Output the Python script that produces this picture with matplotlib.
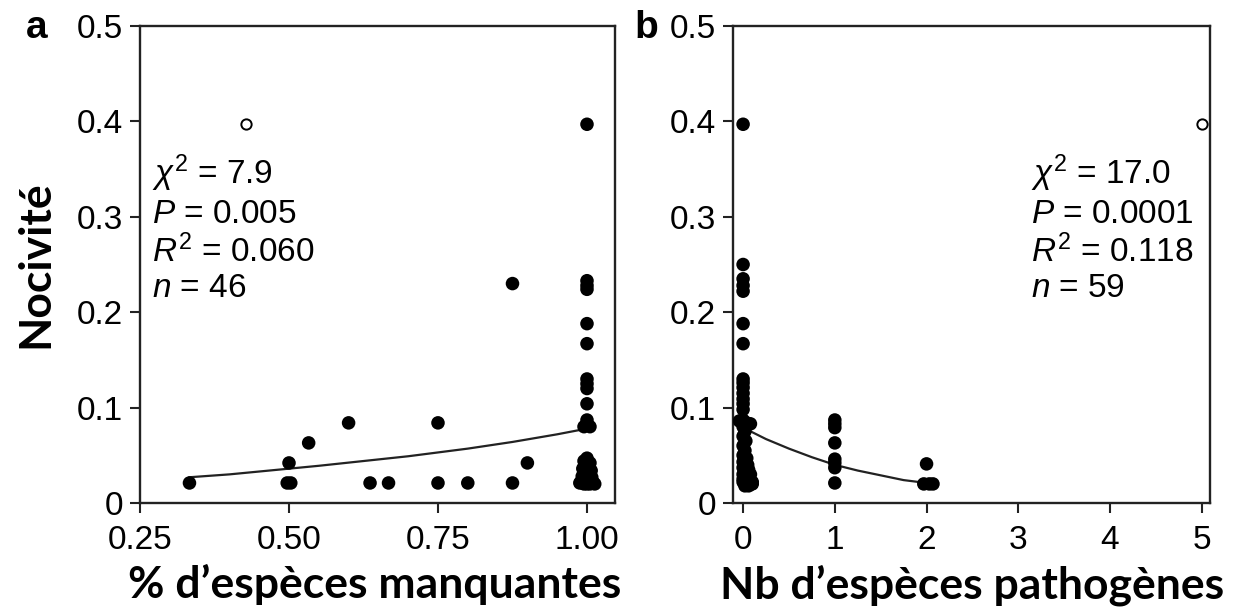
import numpy as np
import matplotlib
matplotlib.use('Agg')
import matplotlib.pyplot as plt

plt.rcParams['font.family'] = ['Liberation Sans', 'DejaVu Sans']
plt.rcParams['mathtext.fontset'] = 'custom'
plt.rcParams['mathtext.rm'] = 'Liberation Sans'
plt.rcParams['mathtext.it'] = 'Liberation Sans:italic'

# panneau a : % d'especes manquantes
a_x = [0.333, 0.497, 0.503, 0.5, 0.533, 0.6, 0.636, 0.667, 0.75, 0.75, 0.8, 0.875, 0.875, 0.9,
       1.0, 1.0, 1.0, 1.0, 1.0, 1.0, 1.0, 1.0, 1.0, 1.0, 1.0, 1.0, 0.995, 1.005,
       1.0, 0.995, 1.005, 1.0, 0.993, 1.007, 1.0, 0.992, 1.008, 1.0, 0.99, 1.01,
       0.995, 1.005, 1.0, 1.013, 0.988, 1.0]
a_y = [0.021, 0.021, 0.021, 0.042, 0.063, 0.084, 0.021, 0.021, 0.021, 0.084, 0.021, 0.021, 0.23, 0.042,
       0.397, 0.233, 0.228, 0.224, 0.188, 0.167, 0.13, 0.125, 0.12, 0.104, 0.087, 0.083, 0.08, 0.08,
       0.047, 0.044, 0.042, 0.039, 0.036, 0.034, 0.031, 0.028, 0.027, 0.025, 0.022, 0.022,
       0.02, 0.02, 0.02, 0.02, 0.021, 0.035]
a_open_x = [0.4286]
a_open_y = [0.397]
a_fit_x = [0.333, 0.4, 0.5, 0.55, 0.625, 0.7, 0.75, 0.8, 0.875, 0.95, 1.0]
a_fit_y = [0.027, 0.030, 0.036, 0.039, 0.044, 0.049, 0.053, 0.057, 0.064, 0.072, 0.078]
a_stats = [r'$\chi^2$ = 7.9', r'$P$ = 0.005', r'$R^2$ = 0.060', r'$n$ = 46']

# panneau b : nb d'especes pathogenes
b_x = [0.0, 0.0, 0.0, 0.0, 0.0, 0.0, 0.0, 0.0, 0.0, 0.0, 0.0, 0.0, 0.0, 0.0,
       -0.04, 0.0, 0.04, 0.08, 0.0, 0.02, 0.0, 0.03, 0.0, 0.02, 0.0, 0.04, 0.01,
       0.0, 0.05, 0.02, 0.0, 0.06, 0.03, 0.0, 0.08, 0.02, 0.06, 0.0, 0.1, 0.0,
       0.04, 0.08, 0.1, 0.02, 0.06, 0.09,
       1.0, 1.0, 1.0, 1.0, 1.0, 1.0, 1.0, 1.0,
       2.0, 1.97, 2.03, 2.07]
b_y = [0.397, 0.25, 0.235, 0.228, 0.222, 0.188, 0.167, 0.13, 0.126, 0.121, 0.115, 0.109, 0.104, 0.098,
       0.086, 0.087, 0.084, 0.083, 0.08, 0.075, 0.07, 0.065, 0.06, 0.055, 0.05, 0.047, 0.045,
       0.043, 0.04, 0.04, 0.037, 0.035, 0.033, 0.03, 0.03, 0.028, 0.025, 0.025, 0.022, 0.022,
       0.02, 0.02, 0.02, 0.018, 0.018, 0.02,
       0.087, 0.083, 0.079, 0.063, 0.046, 0.042, 0.037, 0.021,
       0.041, 0.02, 0.02, 0.02]
b_open_x = [5.0]
b_open_y = [0.397]
b_fit_x = [0.0, 0.25, 0.5, 0.75, 1.0, 1.25, 1.5, 1.75, 2.0]
b_fit_y = [0.079, 0.067, 0.057, 0.048, 0.040, 0.034, 0.029, 0.024, 0.021]
b_stats = [r'$\chi^2$ = 17.0', r'$P$ = 0.0001', r'$R^2$ = 0.118', r'$n$ = 59']

W, H = 1241, 616
fig = plt.figure(figsize=(W / 100, H / 100), dpi=100)
ax1 = fig.add_axes([140 / W, 113 / H, 475 / W, 477 / H])
ax2 = fig.add_axes([733 / W, 113 / H, 477 / W, 477 / H])

lab_font = dict(family=['Lato', 'DejaVu Sans'], fontweight='bold', fontsize=32)


def draw_panel(ax, xs, ys, ox, oy, fx, fy, stats, tx):
    ax.plot(fx, fy, color='#222222', lw=1.6, zorder=2)
    ax.scatter(xs, ys, s=95, color='black', edgecolors='none', zorder=3)
    ax.scatter(ox, oy, s=55, facecolors='white', edgecolors='black', linewidths=1.4, zorder=3)
    ax.set_ylim(0, 0.5)
    ax.set_yticks([0, 0.1, 0.2, 0.3, 0.4, 0.5])
    ax.set_yticklabels(['0', '0.1', '0.2', '0.3', '0.4', '0.5'])
    for sp in ax.spines.values():
        sp.set_linewidth(1.7)
        sp.set_color('#222222')
    ax.tick_params(direction='out', length=7, width=1.5, labelsize=24, pad=5,
                   color='#222222', top=False, right=False)
    ax.tick_params(axis='x', pad=9)
    base = [0.669, 0.587, 0.505, 0.432]
    for s, b in zip(stats, base):
        ax.text(tx, b, s, transform=ax.transAxes, fontsize=24, va='baseline', ha='left')


draw_panel(ax1, a_x, a_y, a_open_x, a_open_y, a_fit_x, a_fit_y, a_stats, 0.025)
ax1.set_xlim(0.25, 1.047)
ax1.set_xticks([0.25, 0.5, 0.75, 1.0])
ax1.set_xticklabels(['0.25', '0.50', '0.75', '1.00'])

draw_panel(ax2, b_x, b_y, b_open_x, b_open_y, b_fit_x, b_fit_y, b_stats, 0.625)
ax2.set_xlim(-0.11, 5.09)
ax2.set_xticks([0, 1, 2, 3, 4, 5])

fig.text(26 / W, 1 - 38 / H, 'a', fontsize=28, fontweight='bold', va='baseline')
fig.text(634 / W, 1 - 38 / H, 'b', fontsize=28, fontweight='bold', va='baseline')

fig.text(375 / W, 1 - 598 / H, '% d’espèces manquantes', ha='center', va='baseline', **lab_font)
fig.text(972 / W, 1 - 598 / H, 'Nb d’espèces pathogènes', ha='center', va='baseline', **lab_font)
fig.text(35 / W, 1 - 264 / H, 'Nocivité', rotation=90, ha='center', va='center', **lab_font)

fig.savefig('out.png', dpi=100)
